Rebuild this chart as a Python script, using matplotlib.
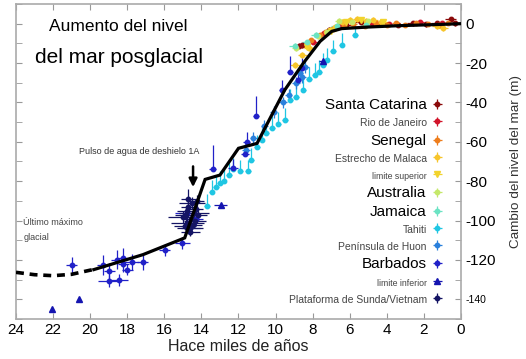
import matplotlib
matplotlib.use("Agg")
import matplotlib.pyplot as plt
from matplotlib.ticker import MultipleLocator

plt.rcParams["font.family"] = ["Liberation Sans", "DejaVu Sans"]
plt.rcParams["axes.unicode_minus"] = False

# sea level reconstruction, ages in ky BP, levels in m
curve_glacial_age = [24, 23, 22, 21, 20, 19.8]
curve_glacial_level = [-126.3, -127.5, -128, -127.3, -125.2, -124.9]
curve_age = [19.8, 17.15, 14.9, 13.8, 13.0, 12.0, 11.0, 9.5, 8.5, 7.6, 6.97, 6.43, 5.0, 3.3, 1.5, 0]
curve_level = [-124.9, -117.3, -108.8, -79.1, -76.9, -63.3, -60.8, -33.6, -20, -9, -3.9, -2.5, -1.7, -1.0, -0.5, 0]

santa_catarina_age = [8.75, 8.6, 7.1, 6.2, 5.4, 4.3, 3.4, 2.6, 1.9, 1.3, 0.55, 0.3]
santa_catarina_level = [-11.2, -11.0, -3.0, -0.5, 0.8, 0.3, -0.6, 0.2, -0.4, 0.4, 2.4, 0.2]
santa_catarina_err = (0.3, 1.2)

rio_age = [7.96, 7.4, 6.6, 4.8, 3.9, 2.2, 1.0]
rio_level = [-9.3, -4.5, -1.2, 0.4, -0.2, 0.6, 0.5]
rio_err = (0.2, 1.0)

senegal_age = [8.1, 7.6, 6.9, 6.3, 5.8, 5.2, 4.6, 4.0, 3.5, 3.0, 2.4, 1.8, 1.2, 0.7]
senegal_level = [-8.5, -6.0, -2.5, -1.2, -0.4, -1.0, 0.3, -0.9, 0.1, -0.6, 0.2, -0.3, -0.8, 0.4]
senegal_err = (0.2, 1.0)

malaca_age = [8.95, 8.55, 8.2, 7.3, 6.8, 6.4, 6.0, 5.6, 5.1, 4.75, 4.3, 1.3, 0.97]
malaca_level = [-20.9, -16, -12.5, -4, -1.5, 1.0, 1.8, 2.2, 1.6, 2.0, 0.8, -1.0, -2.2]
malaca_err = (0.25, 1.5)

lim_sup_age = [8.3, 7.0, 6.2, 5.4, 4.2]
lim_sup_level = [-12, -3.5, 1.0, 1.8, 0.9]
lim_sup_err = 0.25

australia_age = [8.9, 7.7, 7.2, 6.6, 5.9, 5.0]
australia_level = [-12.5, -6.5, -4.0, 1.5, 0.8, 1.2]
australia_err = (0.2, 1.2)

jamaica_age = [8.95, 8.3, 7.8, 6.7, 5.1]
jamaica_level = [-11.2, -9.5, -5.6, -1.0, -0.5]
jamaica_err = (0.3, 1.2)

tahiti_age = [13.7, 13.45, 13.2, 13.0, 12.8, 12.5, 12.3, 11.9, 11.5, 11.3, 11.0, 10.75,
              10.5, 10.2, 9.85, 9.5, 9.2, 8.9, 8.5, 8.2, 7.9, 7.65, 7.43, 7.25, 6.9, 6.44, 5.72]
tahiti_level = [-92.5, -85.4, -83, -81, -80, -77, -74, -75, -75, -69, -62.5, -59,
                -55.7, -53, -51, -49, -39, -37, -33.6, -28, -26, -24.3, -20.9, -18.3, -14.1, -10.7, -5.6]
tahiti_err_low = 1.0
tahiti_err_high = 6.0

huon_age = [11.6, 11.2, 10.6, 10.1, 9.6, 9.3, 8.9, 8.7, 8.55, 8.4]
huon_level = [-64, -58, -52, -45, -40, -36, -30, -25, -27, -22]
huon_err = (0.2, 3.0)

barbados_age = [21.0, 19.3, 18.97, 19.0, 18.57, 18.45, 18.25, 18.22, 18.0, 17.76, 17.17, 15.97,
                15.03, 14.8, 14.6, 14.3, 13.4, 12.3, 11.65, 11.56, 11.07, 9.67, 9.22, 8.8, 8.6]
barbados_level = [-122.7, -122.4, -125.6, -130.7, -119.8, -130.0, -118.8, -121.9, -124.9, -121, -121, -115,
                  -111.4, -96, -104, -99, -73.8, -73.5, -66.2, -59.9, -46.7, -33.6, -24.3, -28.5, -22.6]
barbados_xerr = [0.3, 0.35, 0.3, 0.6, 0.3, 0.5, 0.3, 0.3, 0.3, 0.4, 0.3, 0.3,
                 0.4, 0.6, 0.5, 0.4, 0.2, 0.25, 0.2, 0.2, 0.15, 0.15, 0.15, 0.15, 0.15]
barbados_yerr_low = [4, 5, 4, 3, 5, 3, 5, 4, 3, 4, 4, 3,
                     3, 4, 3, 3, 1, 1, 1, 1, 1, 1, 1, 1, 1]
barbados_yerr_high = [4, 5, 4, 3, 5, 3, 5, 4, 3, 4, 4, 3,
                      3, 4, 3, 3, 12, 5, 5, 5, 10, 5, 8, 6, 5]

lim_inf_age = [22.05, 20.6, 12.96, 7.44]
lim_inf_level = [-144.8, -139.7, -92.2, -18.8]
lim_inf_err = [0, 0, 0.35, 0.2]

sunda_age = [15.0, 14.8, 14.75, 14.7, 14.9, 14.6, 14.55, 14.4, 14.45, 14.3, 14.35, 14.2, 14.7, 14.5, 14.6, 14.25, 14.85]
sunda_level = [-98, -95, -101, -93, -103, -104, -99, -96, -102, -94, -100, -97, -89, -91, -106, -90, -97]
sunda_xerr = [0.8, 0.5, 0.9, 0.4, 0.6, 0.7, 0.4, 0.8, 0.5, 0.4, 0.6, 0.5, 0.4, 0.7, 0.5, 0.4, 0.6]
sunda_yerr = [3, 2, 3, 4, 2, 3, 2, 3, 2, 3, 2, 3, 5, 3, 2, 3, 4]

x_ticks = [24, 22, 20, 18, 16, 14, 12, 10, 8, 6, 4, 2, 0]
y_ticks = [0, -20, -40, -60, -80, -100, -120, -140]

fig = plt.figure(figsize=(5.26, 3.59), dpi=100)
ax = fig.add_axes([0.0304, 0.1114, 0.846, 0.8775])

series = [
    ("Santa Catarina", santa_catarina_age, santa_catarina_level, santa_catarina_err[0], santa_catarina_err[1], "#8b0a0a", "o", "big"),
    ("Rio de Janeiro", rio_age, rio_level, rio_err[0], rio_err[1], "#d2142a", "o", "small"),
    ("Senegal", senegal_age, senegal_level, senegal_err[0], senegal_err[1], "#ee7d1c", "o", "big"),
    ("Estrecho de Malaca", malaca_age, malaca_level, malaca_err[0], malaca_err[1], "#f7c52b", "o", "small"),
    ("limite superior", lim_sup_age, lim_sup_level, lim_sup_err, None, "#f2d32c", "v", "tiny"),
    ("Australia", australia_age, australia_level, australia_err[0], australia_err[1], "#c5e86a", "o", "big"),
    ("Jamaica", jamaica_age, jamaica_level, jamaica_err[0], jamaica_err[1], "#6be3c3", "o", "big"),
    ("Tahiti", tahiti_age, tahiti_level, 0.15, [[tahiti_err_low] * len(tahiti_age), [tahiti_err_high] * len(tahiti_age)], "#1fc6e3", "o", "small"),
    ("Península de Huon", huon_age, huon_level, huon_err[0], huon_err[1], "#2a80dc", "o", "small"),
    ("Barbados", barbados_age, barbados_level, barbados_xerr, [barbados_yerr_low, barbados_yerr_high], "#2121c8", "o", "big"),
    ("limite inferior", lim_inf_age, lim_inf_level, lim_inf_err, None, "#1515b0", "^", "tiny"),
    ("Plataforma de Sunda/Vietnam", sunda_age, sunda_level, sunda_xerr, sunda_yerr, "#141464", "o", "small"),
]

handles, labels, kinds = [], [], []
for name, age, level, xerr, yerr, color, marker, kind in series:
    ms = 5 if marker != "o" else 3.2
    h = ax.errorbar(age, level, xerr=xerr, yerr=yerr, fmt=marker, ms=ms, color=color,
                    ecolor=color, elinewidth=0.9, capsize=0, zorder=2)
    handles.append(h)
    labels.append(name)
    kinds.append(kind)

ax.plot(curve_glacial_age, curve_glacial_level, color="black", lw=2.6, ls=(0, (2.2, 1.6)), zorder=3)
ax.plot(curve_age, curve_level, color="black", lw=2.3, zorder=3, solid_joinstyle="miter")

ax.set_xlim(24, 0)
ax.set_ylim(-150, 10)
ax.set_xticks(x_ticks)
ax.set_yticks(y_ticks)
ax.yaxis.set_minor_locator(MultipleLocator(10))
ax.yaxis.tick_right()
ax.yaxis.set_label_position("right")
ax.tick_params(axis="both", which="both", direction="in", color="#999999", top=True, left=True, right=True)
ax.tick_params(axis="both", which="major", length=4, labelsize=11, pad=3)
ax.tick_params(axis="y", which="minor", length=4)
for lbl in ax.get_yticklabels():
    if lbl.get_text() == "-140":
        lbl.set_fontsize(7.5)
for sp in ax.spines.values():
    sp.set_color("#aaaaaa")
    sp.set_linewidth(1.2)

ax.set_xlabel("Hace miles de años", fontsize=11.5, color="#222222", labelpad=1)
ax.set_ylabel("Cambio del nivel del mar (m)", fontsize=9.7, color="#333333", labelpad=10)

ax.text(0.074, 0.927, "Aumento del nivel", transform=ax.transAxes, fontsize=12.5, va="center")
ax.text(0.043, 0.829, "del mar posglacial", transform=ax.transAxes, fontsize=15, va="center")
ax.text(23.6, -101, "Último máximo", fontsize=6.5, color="#444444", va="center")
ax.text(23.6, -108.6, "glacial", fontsize=6.5, color="#444444", va="center")
ax.annotate("", xy=(14.45, -83), xytext=(14.45, -72.5),
            arrowprops=dict(arrowstyle="-|>", color="black", lw=1.8, mutation_scale=12, shrinkA=0, shrinkB=0))
ax.text(17.35, -64.7, "Pulso de agua de deshielo 1A", fontsize=6.5, color="#333333", ha="center", va="center")

leg = ax.legend(handles, labels, loc="upper right", bbox_to_anchor=(0.9625, 0.701), frameon=False,
                markerfirst=False, fontsize=7, handlelength=1.4, handleheight=1.8, handletextpad=0.4,
                labelspacing=0.36, borderpad=0, borderaxespad=0)
for txt, kind in zip(leg.get_texts(), kinds):
    if kind == "big":
        txt.set_fontsize(11)
        txt.set_color("black")
    elif kind == "small":
        txt.set_fontsize(7.5)
        txt.set_color("#444444")
    else:
        txt.set_fontsize(6.3)
        txt.set_color("#444444")

fig.savefig("out.png", dpi=100)
